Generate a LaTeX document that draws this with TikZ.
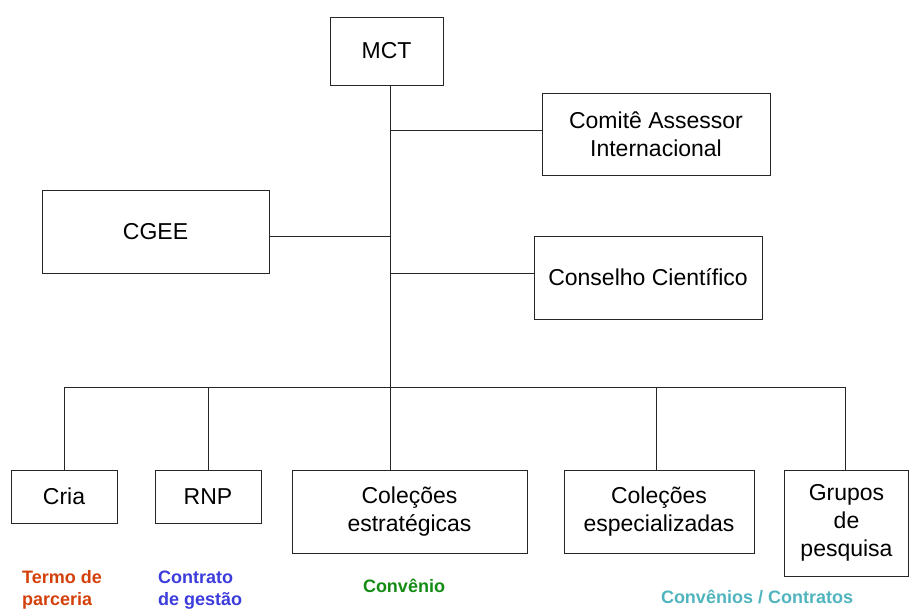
\documentclass[tikz,border=0pt]{standalone}
\usepackage{fontspec}
\setmainfont{Liberation Sans}
\definecolor{cred}{RGB}{212,64,10}
\definecolor{cblue}{RGB}{60,60,220}
\definecolor{cgreen}{RGB}{20,140,20}
\definecolor{cteal}{RGB}{80,180,190}
\begin{document}
\begin{tikzpicture}[x=1pt,y=-1pt,
  box/.style={draw=black!85,line width=0.9pt,rectangle,align=center,inner sep=0pt,
    font=\fontsize{23}{28}\selectfont},
  conn/.style={draw=black!85,line width=0.9pt},
  lbl/.style={inner sep=0pt,font=\fontsize{18}{22}\selectfont\bfseries}]
\useasboundingbox (0,0) rectangle (909,608);
\node[box,minimum width=113pt,minimum height=68pt] (mct) at (386.5,51) {MCT};
\node[box,minimum width=228pt,minimum height=82pt] (comite) at (656,134) {Comitê Assessor\\Internacional};
\node[box,minimum width=227pt,minimum height=83pt] (cgee) at (155.5,231.5) {CGEE};
\node[box,minimum width=228pt,minimum height=83pt] (conselho) at (648,277.5) {Conselho Científico};
\node[box,minimum width=106pt,minimum height=53pt] (cria) at (64,496.5) {Cria};
\node[box,minimum width=106pt,minimum height=53pt] (rnp) at (208,496.5) {RNP};
\node[box,minimum width=235pt,minimum height=83pt] (colestr) at (409.5,511.5) {Coleções\\estratégicas};
\node[box,minimum width=190pt,minimum height=83pt] (colesp) at (659,511.5) {Coleções\\especializadas};
\node[box,minimum width=124pt,minimum height=106pt] (grupos) at (846.5,523) {Grupos\\de\\pesquisa};

\coordinate (ttop) at (390,85);
\coordinate (tcom) at (390,130);
\coordinate (tcge) at (390,236);
\coordinate (tcon) at (390,273);
\coordinate (bus) at (390,387);
\coordinate (bcria) at (64,387);
\coordinate (brnp) at (208,387);
\coordinate (besp) at (656,387);
\coordinate (bgru) at (845,387);

\draw[conn] (ttop) -- (bus);
\draw[conn] (tcom) -- (tcom -| comite.west);
\draw[conn] (tcge) -- (tcge -| cgee.east);
\draw[conn] (tcon) -- (tcon -| conselho.west);
\draw[conn] (bcria) -- (bgru);
\draw[conn] (bcria) -- (bcria |- cria.north);
\draw[conn] (brnp) -- (brnp |- rnp.north);
\draw[conn] (bus) -- (bus |- colestr.north);
\draw[conn] (besp) -- (besp |- colesp.north);
\draw[conn] (bgru) -- (bgru |- grupos.north);

\node[lbl,text=cred,align=left,anchor=west] (l1) at (22,590) {Termo de\\parceria};
\node[lbl,text=cblue,align=left,anchor=west] (l2) at (158,590) {Contrato\\de gestão};
\node[lbl,text=cgreen] (l3) at (404,586) {Convênio};
\node[lbl,text=cteal] (l4) at (757,597) {Convênios / Contratos};
\end{tikzpicture}
\end{document}
